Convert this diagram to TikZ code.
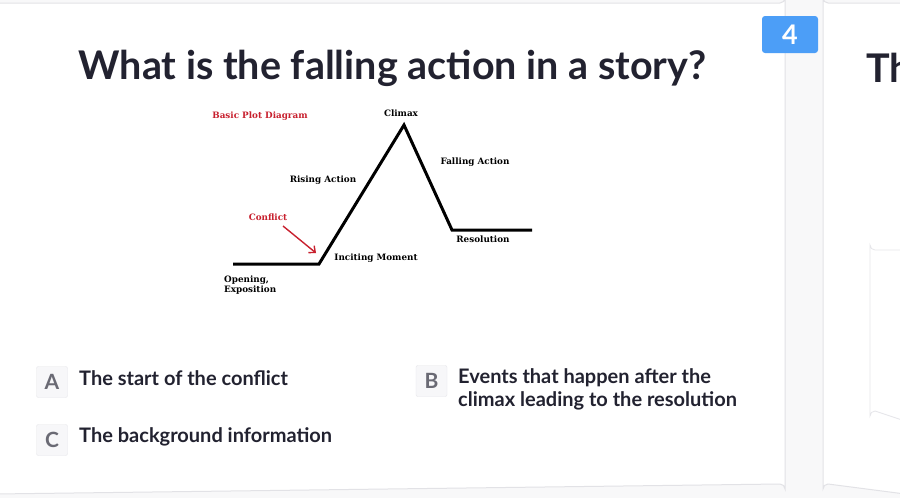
\documentclass[tikz,border=0pt]{standalone}
\usepackage{fontspec}
\setmainfont{Lato}
\newfontfamily\slab{DejaVu Serif}
\usetikzlibrary{arrows.meta}
\definecolor{pagebg}{HTML}{F8F8F9}
\definecolor{ink}{HTML}{222230}
\definecolor{badge}{HTML}{4C9EF7}
\definecolor{plotred}{HTML}{C8202E}
\definecolor{optgray}{HTML}{6A6A74}
\definecolor{optbox}{HTML}{F7F7F9}
\definecolor{optline}{HTML}{E6E6EA}
\definecolor{cardline}{HTML}{E2E2E6}
\begin{document}
\begin{tikzpicture}[x=1pt,y=-1pt,
  plotlbl/.style={font=\slab\bfseries\fontsize{8.8}{10}\selectfont, text=black, inner sep=0pt},
  redlbl/.style={plotlbl, text=plotred},
  letterbox/.style={draw=optline, fill=optbox, rounded corners=2pt, minimum width=31pt, minimum height=31pt, inner sep=0pt, text=optgray, font=\bfseries\fontsize{21}{24}\selectfont},
  opttext/.style={font=\bfseries\fontsize{20}{23}\selectfont, text=ink, inner sep=0pt, anchor=west, align=left},
  card/.style={fill=white, draw=cardline, line width=1pt}
]
\useasboundingbox (0,0) rectangle (900,498);
\fill[pagebg] (0,0) rectangle (900,498);
% cards
\draw[card] (-5,3) -- (780,3) arc[start angle=90,end angle=0,radius=5] -- (785,489) arc[start angle=0,end angle=-90,radius=5] -- (-5,494) -- cycle;
\draw[card] (905,3) -- (828,3) arc[start angle=90,end angle=180,radius=5] -- (823,489) arc[start angle=180,end angle=270,radius=5] -- (905,494);
\draw[optline, line width=0.8pt] (905,250) -- (875,250) arc[start angle=90,end angle=180,radius=5] -- (870,416) arc[start angle=180,end angle=270,radius=5] -- (905,421);
% badge
\node[fill=badge, rounded corners=3pt, minimum width=56pt, minimum height=37pt, inner sep=0pt, text=white, font=\bfseries\fontsize{27}{29}\selectfont] (badge) at (790,34.5) {4};
% title
\node[font=\bfseries\fontsize{39.5}{44}\selectfont, text=ink, inner sep=0pt] (title) at (392.5,68) {What is the falling action in a story?};
\begin{scope}
\clip (823,0) rectangle (900,498);
\node[font=\bfseries\fontsize{39.5}{44}\selectfont, text=ink, inner sep=0pt, anchor=west] (title2) at (866,68) {Th};
\end{scope}
% plot diagram
\coordinate (p0) at (233,264);
\coordinate (p1) at (319,264);
\coordinate (p2) at (404,125);
\coordinate (p3) at (452,230);
\coordinate (p4) at (532,230);
\draw[line width=3pt, line join=miter] (p0) -- (p1) -- (p2) -- (p3) -- (p4);
\node[redlbl] (basic) at (260,116) {Basic Plot Diagram};
\node[plotlbl] (climax) at (401,113) {Climax};
\node[plotlbl] (falling) at (475,162) {Falling Action};
\node[plotlbl] (rising) at (323,180) {Rising Action};
\node[redlbl] (conflict) at (268,217) {Conflict};
\node[plotlbl] (inciting) at (376,258) {Inciting Moment};
\node[plotlbl] (resol) at (483,239.5) {Resolution};
\node[plotlbl, anchor=north west, align=left] (opening) at (224,275.5) {Opening,\\[0.5pt]Exposition};
\coordinate (arrowend) at (316,253);
\draw[plotred, line width=1.4pt, -{Straight Barb[length=5pt,width=9pt]}] (283,226) -- (arrowend);
% options
\node[letterbox] (la) at (52,382) {A};
\node[opttext] (ta) at (79,378) {The start of the conflict};
\node[letterbox] (lb) at (431.5,381) {B};
\node[opttext] (tb) at (458,389.5) {Events that happen after the\\climax leading to the resolution};
\node[letterbox] (lc) at (52,440) {C};
\node[opttext] (tc) at (79,437) {The background information};
\end{tikzpicture}
\end{document}
